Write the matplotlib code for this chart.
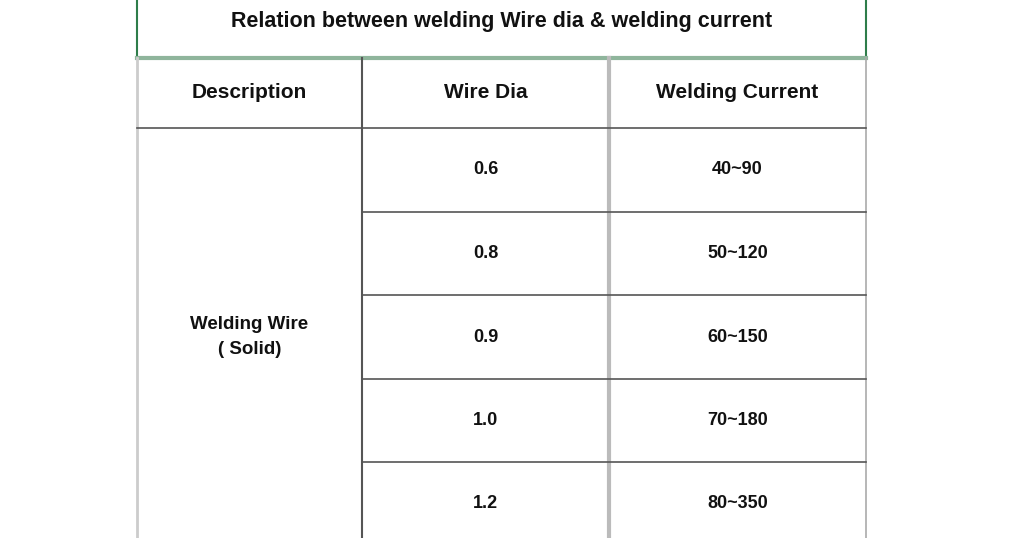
import matplotlib
matplotlib.use("Agg")
import matplotlib.pyplot as plt

title = "Relation between welding Wire dia & welding current"
headers = ["Description", "Wire Dia", "Welding Current"]
description = "Welding Wire\n( Solid)"
wire_dia = ["0.6", "0.8", "0.9", "1.0", "1.2"]
current = ["40~90", "50~120", "60~150", "70~180", "80~350"]

W, H = 1024, 538
fig = plt.figure(figsize=(W/100, H/100), dpi=100)
ax = fig.add_axes([0, 0, 1, 1])
ax.set_xlim(0, W); ax.set_ylim(H, 0); ax.axis("off")

xs = [137, 362, 609, 866]
title_bot = 58
head_bot = 128
row_h = 83.5
rows_y = [head_bot + i*row_h for i in range(len(wire_dia)+1)]
gray = "#555555"
green = "#2e7d4a"
tc = "#111111"
fam = "Liberation Sans"

ax.plot([xs[0], xs[0]], [0, title_bot], color=green, lw=1.5)
ax.plot([xs[3], xs[3]], [0, title_bot], color=green, lw=1.5)
ax.plot([xs[0], xs[3]], [title_bot, title_bot], color="#8fb59c", lw=3)
ax.text((xs[0]+xs[3])/2, 21, title, ha="center", va="center", fontsize=15.5,
        family=fam, weight="bold", color=tc)

ax.plot([xs[0], xs[0]], [title_bot, H], color="#cccccc", lw=2)
ax.plot([xs[1], xs[1]], [title_bot, H], color=gray, lw=1.5)
ax.plot([xs[2], xs[2]], [title_bot, H], color="#bbbbbb", lw=3)
ax.plot([xs[3], xs[3]], [title_bot, H], color="#aaaaaa", lw=1.2)

ax.plot([xs[0], xs[3]], [head_bot, head_bot], color=gray, lw=1.2)
for y in rows_y[1:-1]:
    ax.plot([xs[1], xs[3]], [y, y], color=gray, lw=1.2)

for i, h in enumerate(headers):
    ax.text((xs[i]+xs[i+1])/2, 93, h, ha="center", va="center", fontsize=15,
            family=fam, weight="bold", color=tc)

for i, (d, c) in enumerate(zip(wire_dia, current)):
    yc = rows_y[i] + 42
    ax.text((xs[1]+xs[2])/2, yc, d, ha="center", va="center", fontsize=13,
            family=fam, weight="bold", color=tc)
    ax.text((xs[2]+xs[3])/2, yc, c, ha="center", va="center", fontsize=13,
            family=fam, weight="bold", color=tc)

ax.text((xs[0]+xs[1])/2, 337, description, ha="center", va="center",
        fontsize=13.5, family=fam, weight="bold", color=tc, linespacing=1.6)

fig.savefig("out.png", dpi=100)
